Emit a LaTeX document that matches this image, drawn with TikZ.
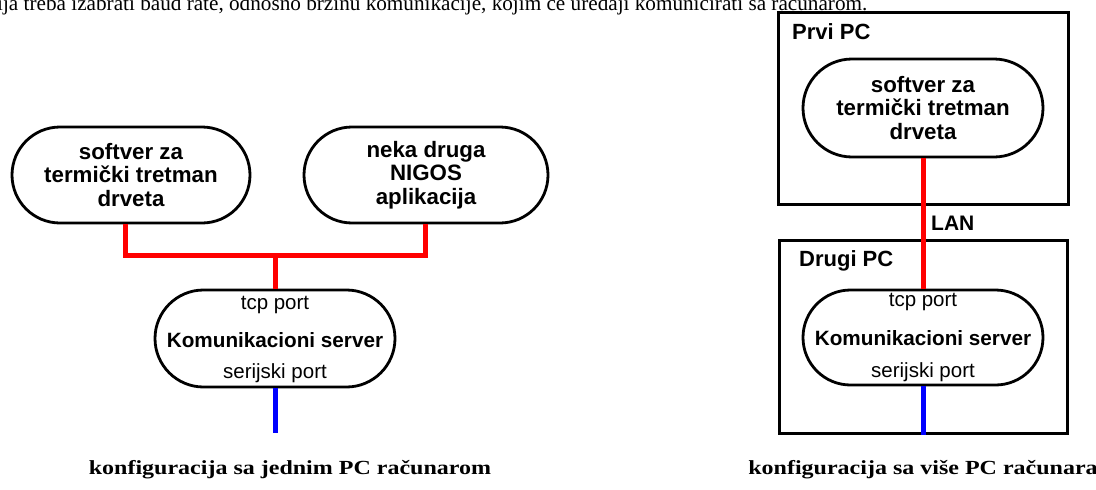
\documentclass[tikz,border=0pt]{standalone}
\usepackage{fontspec}
\setmainfont{Liberation Serif}
\setsansfont{Liberation Sans}
\usetikzlibrary{shapes.misc,calc}
\begin{document}
\begin{tikzpicture}[x=1pt,y=-1pt,
  pill/.style={rounded rectangle, draw=black, line width=2.8pt, fill=white, inner sep=0pt},
  boxtxt/.style={font=\sffamily\bfseries\fontsize{22.3}{23.5}\selectfont, align=center},
  port/.style={font=\sffamily\fontsize{20.5}{24}\selectfont, inner sep=0pt},
  srvtxt/.style={font=\sffamily\bfseries\fontsize{20.7}{24}\selectfont, inner sep=0pt},
  pcbox/.style={draw=black, line width=3pt},
  pclabel/.style={font=\sffamily\bfseries\fontsize{22}{24}\selectfont, anchor=west, inner sep=0pt},
  redline/.style={draw=red, line width=5pt, line join=miter},
  blueline/.style={draw=blue, line width=5pt},
  captxt/.style={font=\bfseries\fontsize{20}{24}\selectfont, inner sep=0pt},
  toptxt/.style={font=\fontsize{21.2}{24}\selectfont, inner sep=0pt, anchor=base west}]
\useasboundingbox (0,0) rectangle (1096,490);
\clip (0,0) rectangle (1096,490);

% top cut-off sentence
\node[toptxt] (top) at (-3,10.5) {ija treba izabrati baud rate, odnosno brzinu komunikacije, kojim će uređaji komunicirati sa računarom.};

% ---------- left configuration ----------
\node[pill, boxtxt, minimum width=238pt, minimum height=96pt] (A) at (131,175) {softver za\\termički tretman\\drveta};
\node[pill, boxtxt, minimum width=244pt, minimum height=96pt] (B) at (426,175) {neka druga\\NIGOS\\aplikacija};
\node[pill, minimum width=240pt, minimum height=97pt] (S) at (275,338.5) {};
\node[port] (Stcp) at (275,305) {tcp port};
\node[srvtxt] (Sname) at (275,340) {Komunikacioni server};
\node[port] (Sser) at (275,373) {serijski port};

\coordinate (J) at (275,255);
\coordinate (Aout) at ($(A.south)+(-6,0)$);
\coordinate (Bout) at ($(B.south)+(-1,0)$);
\coordinate (Send) at (275,433);
\draw[redline] (Aout) |- (J) -| (Bout);
\draw[redline] (J) -- (S.north);
\draw[blueline] (S.south) -- (Send);

\node[captxt] (cap1) at (290,470) {\scalebox{1.2}[1]{konfiguracija sa jednim PC računarom}};

% ---------- right configuration ----------
\node[pcbox, minimum width=290pt, minimum height=192pt, inner sep=0pt] (P1) at (923,108) {};
\node[pclabel] (P1l) at (792,32) {Prvi PC};
\node[pcbox, minimum width=288pt, minimum height=193pt, inner sep=0pt] (P2) at (923,336.5) {};
\node[pclabel] (P2l) at (799,261) {Drugi PC};

\node[pill, boxtxt, minimum width=240pt, minimum height=98pt] (C) at (923,108) {softver za\\termički tretman\\drveta};
\node[pill, minimum width=240pt, minimum height=95pt] (T) at (923,337.5) {};
\node[port] (Ttcp) at (923,302) {tcp port};
\node[srvtxt] (Tname) at (923,338) {Komunikacioni server};
\node[port] (Tser) at (923,372) {serijski port};

\node[font=\sffamily\bfseries\fontsize{21}{24}\selectfont, anchor=west, inner sep=0pt] (lan) at (931,223) {LAN};

\draw[redline] (C.south) -- (T.north);
\draw[blueline] (T.south) -- (P2.south);

\node[captxt] (cap2) at (923,470) {\scalebox{1.2}[1]{konfiguracija sa više PC računara}};
\end{tikzpicture}
\end{document}
